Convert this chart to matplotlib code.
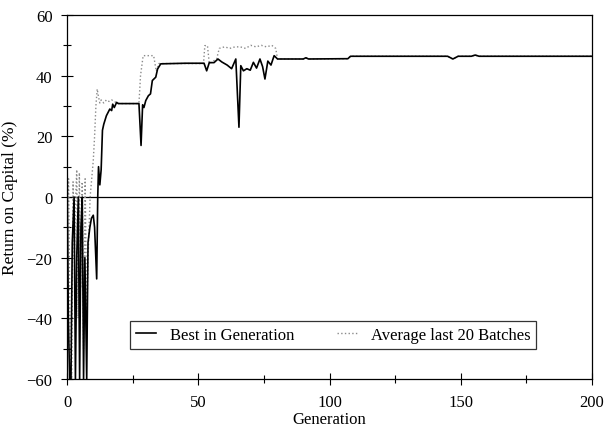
import matplotlib
matplotlib.use("Agg")
import matplotlib.pyplot as plt
from matplotlib.ticker import MultipleLocator

plt.rcParams['font.family'] = ['Liberation Serif', 'DejaVu Serif']

# Best in Generation (breakpoints: generation, return %)
best_gen = [0, 0.5, 1, 1.5, 2, 2.7, 3.2, 3.7, 4.3, 4.8, 5.3, 5.8, 6.3, 6.8, 7.5, 8, 8.7,
            9.3, 10, 10.5, 11.3, 11.7, 12, 12.5, 13, 13.5, 14, 15, 16.3, 17, 17.4, 18, 18.9,
            19.5, 27.4, 27.8, 28.2, 28.8, 29.3, 30, 31, 31.8, 32.5, 33.8, 34.5, 35.7,
            45, 52.2, 53.2, 54.2, 56, 57.5, 59, 61, 62.7, 64.3, 65.5, 66.2, 67.2, 68.5,
            69.8, 71, 72.2, 73.5, 74.5, 75.4, 76.5, 77.7, 78.9, 80.2, 90, 91, 92,
            107, 108, 145, 147, 149, 154, 155.5, 157, 200]
best_val = [14, -40, -60, -60, -15, 0, -60, -20, 0, -60, -10, 0, -60, -20, -60, -15, -10,
            -7, -6, -10, -27, 0, 10, 4, 9, 22, 24, 26.8, 29, 28.5, 30.6, 29.5, 31.2,
            30.8, 30.8, 24, 17, 30.4, 29.5, 31.8, 33.4, 34, 38.4, 39.5, 42.2, 43.9,
            44.1, 44.1, 41.6, 44.3, 44.3, 45.5, 44.5, 43.5, 42.3, 45.5, 23, 43.3, 41.6, 42.3,
            41.8, 44.4, 42.5, 45.5, 43, 38.9, 44.8, 43.5, 46.6, 45.5, 45.5, 45.9, 45.5,
            45.6, 46.4, 46.4, 45.5, 46.4, 46.4, 46.8, 46.4, 46.4]

# Average last 20 Batches
avg_gen = [0, 0.6, 1.2, 1.8, 2.3, 2.8, 3.3, 3.7, 4.2, 4.7, 5.2, 5.8, 6.3, 6.9, 7.5, 8.2,
           8.8, 9.4, 10, 10.5, 11, 11.5, 12, 12.5, 13, 14, 15, 16, 17, 18, 19, 20,
           27.4, 28, 29, 33, 34, 35, 52, 52.5, 53.5, 54.2, 57, 58, 60, 62, 64, 66,
           68, 70, 72, 74, 76, 78, 79.5, 80.2, 90, 91, 92, 107, 108, 145, 147, 149,
           154, 155.5, 157, 200]
avg_val = [-5, 6, -50, -60, 5, -20, 0, 9, -40, 8, -30, 5, -50, 6, -40, -15,
           0, 6, 12, 20, 30, 35.6, 33, 31, 32, 31, 32, 31.5, 32, 31.5, 31, 30.8,
           30.8, 40, 46.6, 46.6, 41.5, 44, 44, 49.9, 49.9, 44, 45.5, 49, 49.5, 49, 49.5, 49.5,
           49, 50, 49.5, 50, 49.5, 50, 49, 45.5, 45.5, 45.9, 45.5, 45.6, 46.4, 46.4,
           45.5, 46.4, 46.4, 46.8, 46.4, 46.4]

x_ticks = [0, 50, 100, 150, 200]
y_ticks = [-60, -40, -20, 0, 20, 40, 60]

fig = plt.figure(figsize=(6.06, 4.35), dpi=100)
ax = fig.add_axes([0.1106, 0.1264, 0.8663, 0.8368])

ax.axhline(0, color='black', lw=0.9, zorder=1)
ax.plot(avg_gen, avg_val, color='#8a8a8a', lw=1.0, ls=':', label='Average last 20 Batches', zorder=2)
ax.plot(best_gen, best_val, color='black', lw=1.2, ls='-', label='Best in Generation', zorder=3)

ax.set_xlim(0, 200)
ax.set_ylim(-60, 60)
ax.set_xticks(x_ticks)
ax.set_yticks(y_ticks)
ax.xaxis.set_minor_locator(MultipleLocator(25))
ax.yaxis.set_minor_locator(MultipleLocator(10))
ax.tick_params(which='major', direction='inout', length=9, width=0.8, labelsize=12, pad=6)
ax.tick_params(which='minor', direction='inout', length=6, width=0.8)
for s in ax.spines.values():
    s.set_linewidth(0.9)

ax.set_xlabel('Generation', fontsize=12, labelpad=1)
ax.set_ylabel('Return on Capital (%)', fontsize=12.5, labelpad=6)

handles, labels = ax.get_legend_handles_labels()
leg = ax.legend(handles[::-1], labels[::-1], loc='lower left', bbox_to_anchor=(0.105, 0.06),
                ncol=2, fontsize=12, frameon=True, fancybox=False, edgecolor='black',
                handlelength=1.2, handletextpad=0.8, columnspacing=2.6, borderpad=0.35)
leg.get_frame().set_linewidth(0.9)

fig.savefig('out.png', dpi=100)
